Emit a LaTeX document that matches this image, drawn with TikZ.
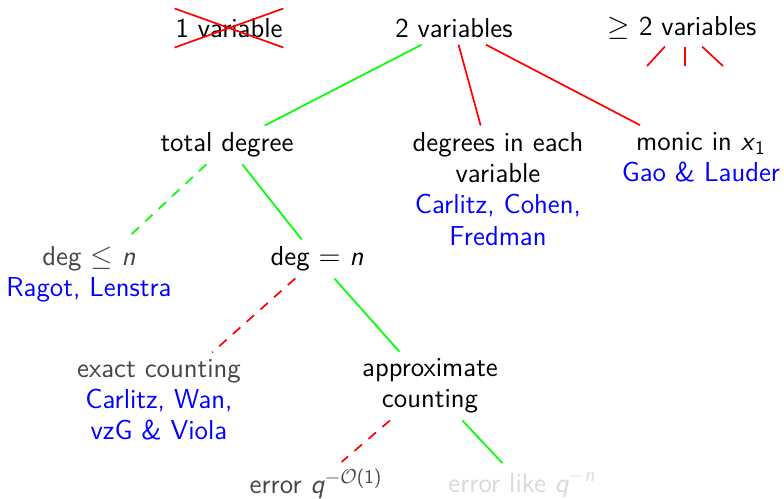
\documentclass[tikz,border=0pt]{standalone}
\usetikzlibrary{shapes.misc}
\definecolor{dgray}{gray}{0.27}
\definecolor{lgray}{gray}{0.85}
\definecolor{rblue}{rgb}{0,0,1}
\definecolor{lgreen}{rgb}{0,1,0}
\definecolor{lred}{rgb}{1,0,0}
\newcommand\reftxt[1]{\textcolor{rblue}{#1}}
\begin{document}
\begin{tikzpicture}[x=0.5pt,y=-0.5pt,
  every node/.style={font=\sffamily\fontsize{13.7}{15.6}\selectfont, align=center},
  gline/.style={draw=lgreen, line width=0.85pt},
  rline/.style={draw=lred, line width=0.85pt},
  dashline/.style={dash pattern=on 5pt off 4.2pt}]
\useasboundingbox (0,0) rectangle (784,499);
\node[cross out, draw=lred, line width=0.85pt, inner xsep=0pt, inner ysep=4.5pt] (v1) at (229,28) {1 variable};
\node (v2) at (454,28) {2 variables};
\node (v3) at (682,28) {$\geq$ 2 variables};
\node (td) at (227,145) {total degree};
\node (de) at (498,189) {degrees in each\\variable\\\reftxt{Carlitz, Cohen,}\\\reftxt{Fredman}};
\node (mo) at (701,157) {monic in \textsl{x}\textsubscript{1}\\\reftxt{Gao \& Lauder}};
\node (dl) at (89,274) {\textcolor{dgray}{deg $\leq$ \textsl{n}}\\\reftxt{Ragot, Lenstra}};
\node (dq) at (317,259) {deg $=$ \textsl{n}};
\node (ex) at (159,400) {\textcolor{dgray}{exact counting}\\\reftxt{Carlitz, Wan,}\\\reftxt{vzG \& Viola}};
\node (ap) at (430,386) {approximate\\counting};
\node (e1) at (316,484) {\textcolor{dgray}{error \textsl{q}\textsuperscript{$-\mathcal{O}$(1)}}};
\node (e2) at (522,484) {\textcolor{lgray}{error like \textsl{q}\textsuperscript{$-$\textsl{n}}}};
\coordinate (g1) at (647,66);
\coordinate (g2) at (685,66);
\coordinate (g3) at (723,66);
\draw[gline] (v2) -- (td);
\draw[rline] (v2) -- (de);
\draw[rline] (v2) -- (mo);
\draw[rline] (v3) -- (g1);
\draw[rline] (v3.south -| g2) -- (g2);
\draw[rline] (v3) -- (g3);
\draw[gline, dashline] (td) -- (dl);
\draw[gline] (td) -- (dq);
\draw[rline, dashline] (dq) -- (ex);
\draw[gline] (dq) -- (ap);
\draw[rline, dashline] (ap) -- (e1);
\draw[gline] (ap) -- (e2);
\end{tikzpicture}
\end{document}
